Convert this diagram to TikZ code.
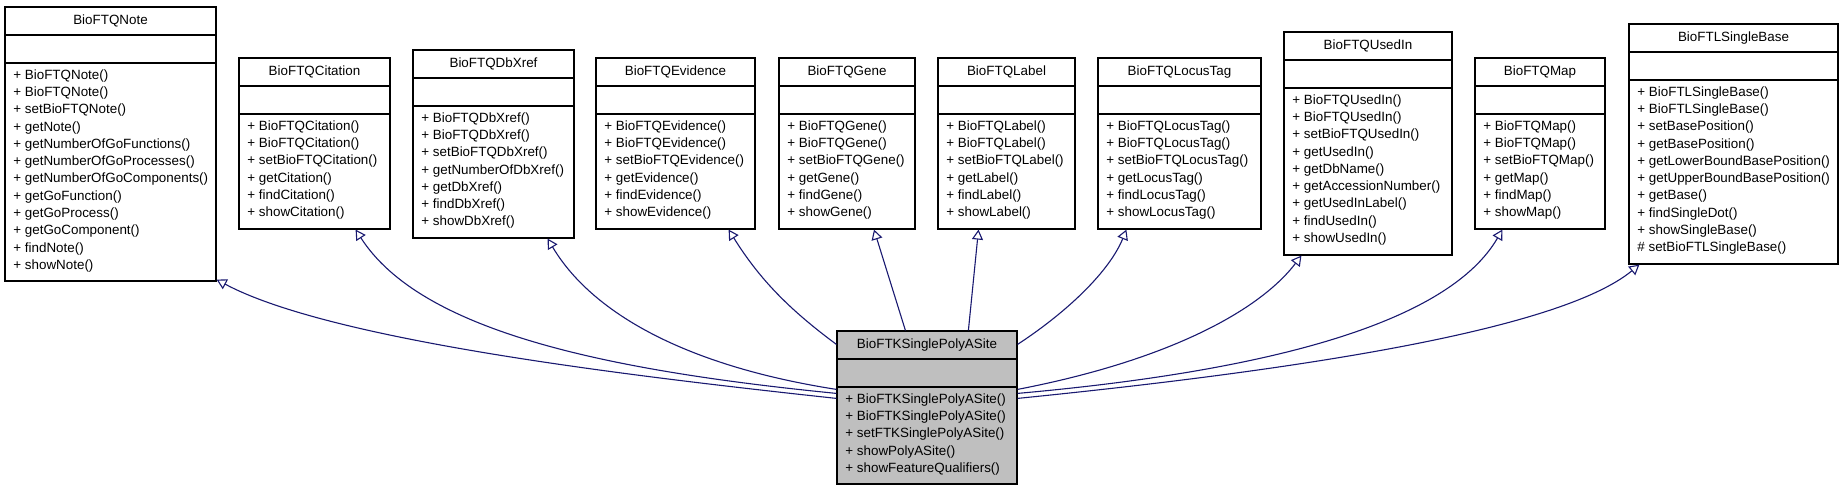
\documentclass[tikz,border=0pt]{standalone}
\usepackage{fontspec}
\setmainfont{Liberation Sans}
\usepackage{tikz}
\usetikzlibrary{calc}
\usetikzlibrary{positioning, arrows.meta, fit}
\definecolor{edgeblue}{HTML}{191970}
\definecolor{childgray}{HTML}{BFBFBF}

\tikzset{
  clsbox/.style={draw, line width=0.6pt, inner sep=0pt},
  clstitle/.style={inner sep=0pt, font=\fontsize{6.7}{8.65}\selectfont},
  clsbody/.style={inner sep=0pt, anchor=north west, align=left, font=\fontsize{6.7}{8.65}\selectfont},
  inherit/.style={draw=edgeblue, line width=0.55pt, -{Triangle[open, length=5pt, width=5.5pt]}}
}

% name, x1, y1, x2, y2, title, methods, fill
\newcommand{\umlclass}[8]{%
  \node[clsbox, fill=#8, fit={(#2,#3) (#4,#5)}] (#1) {};
  \draw[line width=0.6pt] (#2,{#3+28}) -- (#4,{#3+28});
  \draw[line width=0.6pt] (#2,{#3+56}) -- (#4,{#3+56});
  \node[clstitle] (#1-title) at ({(#2+#4)/2},{#3+14}) {#6};
  \node[clsbody] (#1-ops) at ({#2+8},{#3+62}) {#7};
}

\begin{document}
\begin{tikzpicture}[x=0.5pt, y=-0.5pt]
    \useasboundingbox (0,0) rectangle (1843,491);

    % Base classes
    \umlclass{note}{5}{7}{216}{281}{BioFTQNote}{+ BioFTQNote()\\+ BioFTQNote()\\+ setBioFTQNote()\\+ getNote()\\+ getNumberOfGoFunctions()\\+ getNumberOfGoProcesses()\\+ getNumberOfGoComponents()\\+ getGoFunction()\\+ getGoProcess()\\+ getGoComponent()\\+ findNote()\\+ showNote()}{white}
    \umlclass{citation}{239}{58}{390}{229}{BioFTQCitation}{+ BioFTQCitation()\\+ BioFTQCitation()\\+ setBioFTQCitation()\\+ getCitation()\\+ findCitation()\\+ showCitation()}{white}
    \umlclass{dbxref}{413}{50}{574}{238}{BioFTQDbXref}{+ BioFTQDbXref()\\+ BioFTQDbXref()\\+ setBioFTQDbXref()\\+ getNumberOfDbXref()\\+ getDbXref()\\+ findDbXref()\\+ showDbXref()}{white}
    \umlclass{evidence}{596}{58}{755}{229}{BioFTQEvidence}{+ BioFTQEvidence()\\+ BioFTQEvidence()\\+ setBioFTQEvidence()\\+ getEvidence()\\+ findEvidence()\\+ showEvidence()}{white}
    \umlclass{gene}{779}{58}{915}{229}{BioFTQGene}{+ BioFTQGene()\\+ BioFTQGene()\\+ setBioFTQGene()\\+ getGene()\\+ findGene()\\+ showGene()}{white}
    \umlclass{label}{938}{58}{1075}{229}{BioFTQLabel}{+ BioFTQLabel()\\+ BioFTQLabel()\\+ setBioFTQLabel()\\+ getLabel()\\+ findLabel()\\+ showLabel()}{white}
    \umlclass{locustag}{1098}{58}{1261}{229}{BioFTQLocusTag}{+ BioFTQLocusTag()\\+ BioFTQLocusTag()\\+ setBioFTQLocusTag()\\+ getLocusTag()\\+ findLocusTag()\\+ showLocusTag()}{white}
    \umlclass{usedin}{1284}{32}{1452}{255}{BioFTQUsedIn}{+ BioFTQUsedIn()\\+ BioFTQUsedIn()\\+ setBioFTQUsedIn()\\+ getUsedIn()\\+ getDbName()\\+ getAccessionNumber()\\+ getUsedInLabel()\\+ findUsedIn()\\+ showUsedIn()}{white}
    \umlclass{map}{1475}{58}{1605}{229}{BioFTQMap}{+ BioFTQMap()\\+ BioFTQMap()\\+ setBioFTQMap()\\+ getMap()\\+ findMap()\\+ showMap()}{white}
    \umlclass{singlebase}{1629}{24}{1838}{264}{BioFTLSingleBase}{+ BioFTLSingleBase()\\+ BioFTLSingleBase()\\+ setBasePosition()\\+ getBasePosition()\\+ getLowerBoundBasePosition()\\+ getUpperBoundBasePosition()\\+ getBase()\\+ findSingleDot()\\+ showSingleBase()\\\# setBioFTLSingleBase()}{white}

    % Derived class
    \umlclass{poly}{837}{331}{1017}{484}{BioFTKSinglePolyASite}{+ BioFTKSinglePolyASite()\\+ BioFTKSinglePolyASite()\\+ setFTKSinglePolyASite()\\+ showPolyASite()\\+ showFeatureQualifiers()}{childgray}

    % Inheritance
    \draw[inherit] ($(poly.north west)+(0,68)$) .. controls (620,375) and (330,340) .. ($(note.south east)+(0,-2)$);
    \draw[inherit] ($(poly.north west)+(0,63)$) .. controls (600,370) and (420,330) .. ($(citation.south east)+(-35,0)$);
    \draw[inherit] ($(poly.north west)+(0,59)$) .. controls (680,365) and (590,310) .. ($(dbxref.south east)+(-27,0)$);
    \draw[inherit] ($(poly.north west)+(0,14)$) .. controls (790,310) and (760,280) .. ($(evidence.south east)+(-27,0)$);
    \draw[inherit] ($(poly.north west)+(69,0)$) -- ($(gene.south)+(27,0)$);
    \draw[inherit] ($(poly.north west)+(132,0)$) -- ($(label.south)+(-28,0)$);
    \draw[inherit] ($(poly.north east)+(0,14)$) .. controls (1070,310) and (1110,270) .. ($(locustag.south west)+(29,0)$);
    \draw[inherit] ($(poly.north east)+(0,59)$) .. controls (1170,360) and (1260,310) .. ($(usedin.south west)+(18,0)$);
    \draw[inherit] ($(poly.north east)+(0,63)$) .. controls (1280,370) and (1450,320) .. ($(map.south west)+(28,0)$);
    \draw[inherit] ($(poly.north east)+(0,68)$) .. controls (1300,370) and (1560,330) .. ($(singlebase.south west)+(11,0)$);
\end{tikzpicture}
\end{document}
